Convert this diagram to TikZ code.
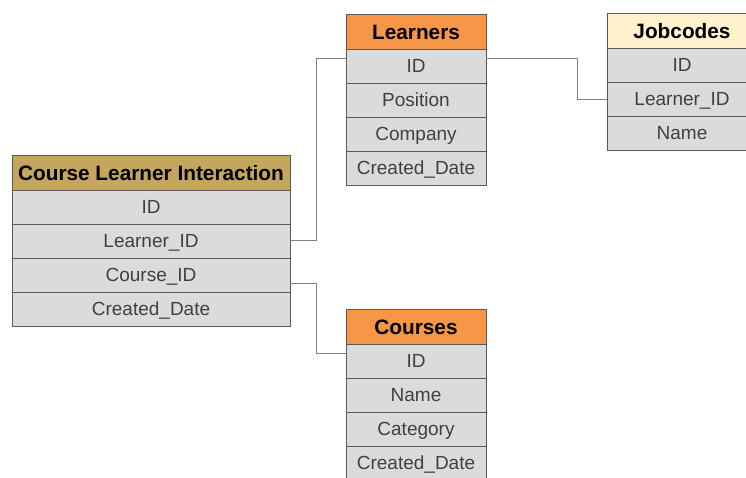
\documentclass[tikz,border=0pt]{standalone}
\usepackage{fontspec}
\setmainfont{Liberation Sans}
\usetikzlibrary{positioning}
\definecolor{headgold}{RGB}{196,166,94}
\definecolor{headorange}{RGB}{247,150,70}
\definecolor{headcream}{RGB}{255,242,204}
\definecolor{rowgray}{RGB}{219,219,219}
\definecolor{bordergray}{RGB}{90,90,90}
\definecolor{linkgray}{RGB}{128,128,128}
\definecolor{rowtext}{RGB}{64,64,64}
\tikzset{tbl head/.style={rectangle,draw=bordergray,line width=1pt,inner sep=0pt,outer sep=0pt,
                         minimum width=#1,minimum height=35pt,text height=16pt,text depth=0pt,
                         font=\bfseries\fontsize{20.8}{22}\selectfont},
         tbl row/.style={rectangle,draw=bordergray,fill=rowgray,line width=1pt,inner sep=0pt,outer sep=0pt,
                         minimum width=#1,minimum height=34pt,text height=13.8pt,text depth=0pt,
                         text=rowtext,font=\fontsize{19}{21}\selectfont},
         link/.style={draw=linkgray,line width=0.9pt}
}
\begin{document}
\begin{tikzpicture}[x=1pt,y=-1pt,node distance=0pt]
\useasboundingbox (0,0) rectangle (746,477);
% Course Learner Interaction
\node [tbl head=278pt,fill=headgold,anchor=north west] (cli) at (12,155) {Course Learner Interaction};
\node [tbl row=278pt,below=of cli] (cli-id) {ID};
\node [tbl row=278pt,below=of cli-id] (cli-lid) {Learner\_ID};
\node [tbl row=278pt,below=of cli-lid] (cli-cid) {Course\_ID};
\node [tbl row=278pt,below=of cli-cid] (cli-date) {Created\_Date};
% Learners
\node [tbl head=140pt,fill=headorange,anchor=north west] (ln) at (346,14) {Learners};
\node [tbl row=140pt,below=of ln] (ln-id) {ID};
\node [tbl row=140pt,below=of ln-id] (ln-pos) {Position};
\node [tbl row=140pt,below=of ln-pos] (ln-comp) {Company};
\node [tbl row=140pt,below=of ln-comp] (ln-date) {Created\_Date};
% Jobcodes
\node [tbl head=150pt,fill=headcream,anchor=north west] (jc) at (607,13) {Jobcodes};
\node [tbl row=150pt,below=of jc] (jc-id) {ID};
\node [tbl row=150pt,below=of jc-id] (jc-lid) {Learner\_ID};
\node [tbl row=150pt,below=of jc-lid] (jc-name) {Name};
% Courses
\node [tbl head=140pt,fill=headorange,anchor=north west] (cs) at (346,309) {Courses};
\node [tbl row=140pt,below=of cs] (cs-id) {ID};
\node [tbl row=140pt,below=of cs-id] (cs-name) {Name};
\node [tbl row=140pt,below=of cs-name] (cs-cat) {Category};
\node [tbl row=140pt,below=of cs-cat] (cs-date) {Created\_Date};
% links
\draw [link] ([yshift=1pt]cli-lid.east) -- ++(26,0) |- ([yshift=8pt]ln-id.west);
\draw [link] ([yshift=-8pt]cli-cid.east) -- ++(26,0) |- ([yshift=8pt]cs-id.west);
\draw [link] ([yshift=8pt]ln-id.east) -- ++(91,0) |- (jc-lid.west);
\end{tikzpicture}
\end{document}
